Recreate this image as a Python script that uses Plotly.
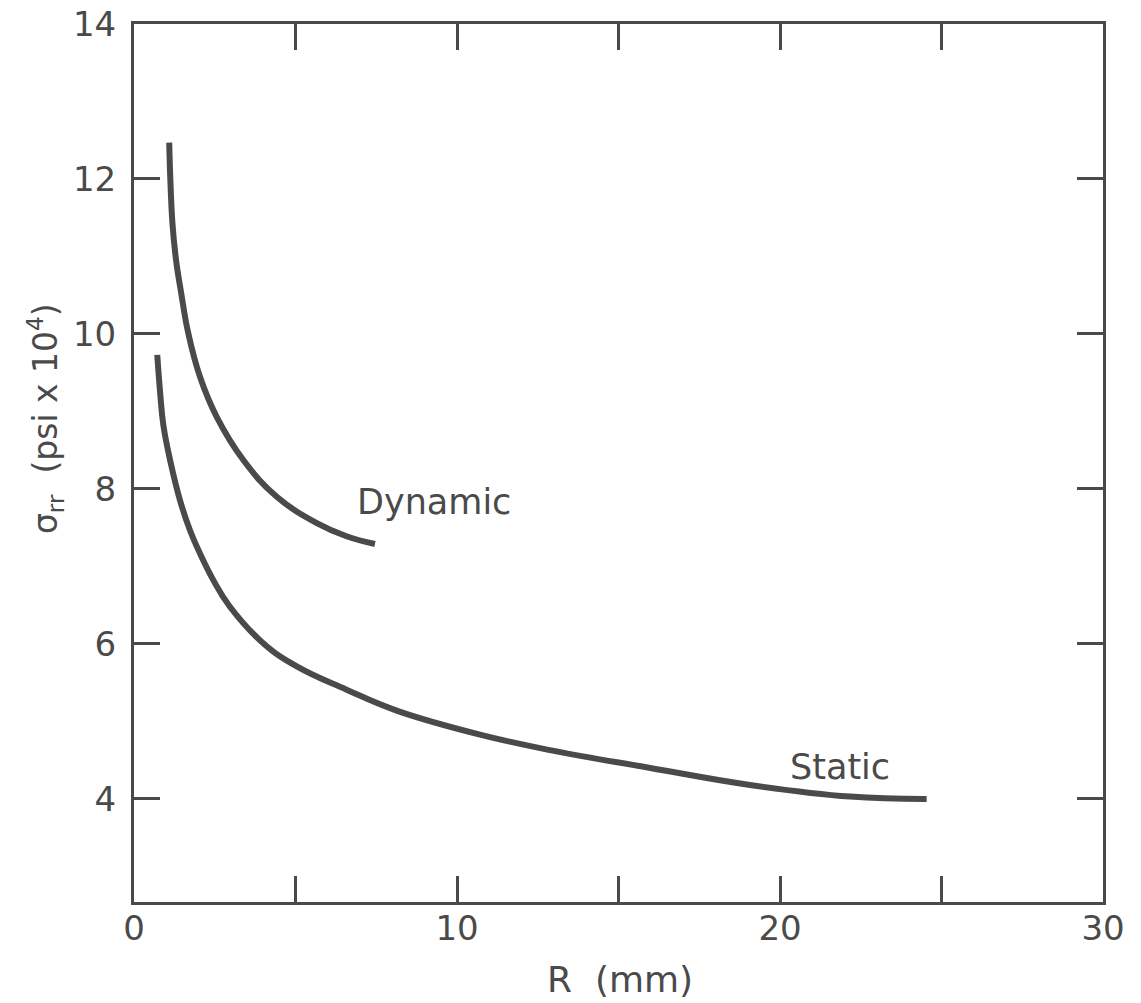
import plotly.graph_objects as go

# Data
dynamic_r = [1.09, 1.13, 1.19, 1.30, 1.46, 1.68, 2.04, 2.56, 3.39, 4.42, 5.66, 6.58, 7.46]
dynamic_s = [12.47, 11.94, 11.43, 10.96, 10.53, 10.01, 9.45, 8.93, 8.37, 7.90, 7.56, 7.39, 7.29]

static_r = [0.72, 0.81, 0.91, 1.14, 1.42, 1.73, 2.04, 2.46, 2.97, 4.00, 5.04, 6.58, 8.13,
            10.71, 12.88, 15.98, 19.07, 22.17, 24.54]
static_s = [9.73, 9.24, 8.82, 8.33, 7.86, 7.47, 7.17, 6.82, 6.48, 6.01, 5.71, 5.41, 5.14,
            4.83, 4.63, 4.40, 4.18, 4.03, 4.00]

x_tickvals = [0, 5, 10, 15, 20, 25, 30]
x_ticktext = ["0", "", "10", "", "20", "", "30"]
y_tickvals = [4, 6, 8, 10, 12, 14]
y_ticktext = ["4", "6", "8", "10", "12", "14"]

INK = "#4a4a4a"
FONT = "DejaVu Sans"

fig = go.Figure()
fig.add_trace(go.Scatter(x=dynamic_r, y=dynamic_s, mode="lines", name="Dynamic",
                         line=dict(color=INK, width=6, shape="spline", smoothing=1.2)))
fig.add_trace(go.Scatter(x=static_r, y=static_s, mode="lines", name="Static",
                         line=dict(color=INK, width=6, shape="spline", smoothing=1.2)))

fig.add_annotation(x=9.29, y=7.83, text="Dynamic", showarrow=False,
                   font=dict(family=FONT, size=35, color=INK))
fig.add_annotation(x=21.86, y=4.41, text="Static", showarrow=False,
                   font=dict(family=FONT, size=35, color=INK))

fig.add_annotation(xref="paper", yref="paper", x=0, y=0.55, xshift=-89,
                   text="σ<sub>rr</sub>  (psi x 10<sup>4</sup>)", textangle=-90,
                   showarrow=False, xanchor="center", yanchor="middle",
                   font=dict(family=FONT, size=33, color=INK))
fig.add_annotation(xref="paper", yref="paper", x=0.502, y=0, yshift=-77,
                   text="R  (mm)", showarrow=False, xanchor="center", yanchor="middle",
                   font=dict(family=FONT, size=36, color=INK))

axis_common = dict(showline=True, linecolor=INK, linewidth=3, mirror="ticks",
                   ticks="inside", ticklen=26, tickwidth=3, tickcolor=INK,
                   showgrid=False, zeroline=False, automargin=False,
                   tickfont=dict(family=FONT, size=34, color=INK))

fig.update_xaxes(range=[0, 30], tickvals=x_tickvals, ticktext=x_ticktext,
                 ticklabelstandoff=-6, **axis_common)
fig.update_yaxes(range=[2.67, 14], tickvals=y_tickvals, ticktext=y_ticktext,
                 ticklabelstandoff=8, **axis_common)

fig.update_layout(width=1141, height=1003, showlegend=False,
                  margin=dict(l=134, r=38, t=24, b=101),
                  plot_bgcolor="white", paper_bgcolor="white")

fig.write_html("out.html")
